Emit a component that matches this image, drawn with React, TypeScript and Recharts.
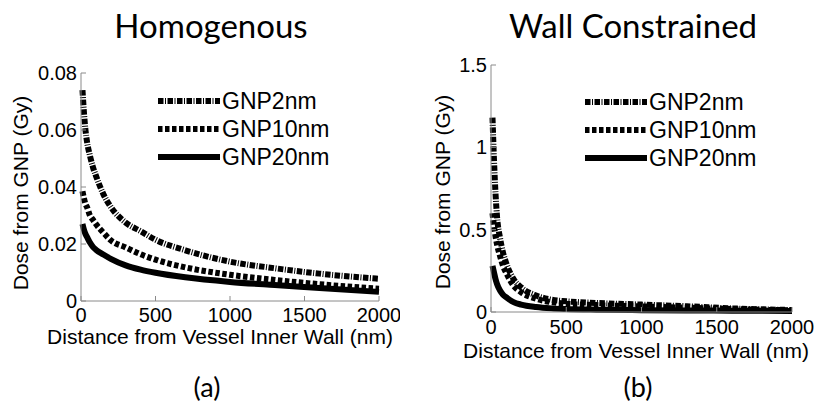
import React from "react";
import { LineChart, Line, XAxis, YAxis, Legend } from "recharts";

// distances (nm) shared by both panels
const distance = [10, 20, 30, 40, 60, 80, 100, 150, 200, 300, 400, 500, 700, 1000, 1300, 1600, 2000];

// (a) Homogenous, dose in Gy
const homGNP2 = [0.074, 0.066, 0.06, 0.056, 0.051, 0.047, 0.044, 0.0375, 0.033, 0.0275, 0.0245, 0.0215, 0.0178, 0.0138, 0.0115, 0.0096, 0.0078];
const homGNP10 = [0.0385, 0.036, 0.034, 0.033, 0.03, 0.0285, 0.027, 0.024, 0.0213, 0.0188, 0.0164, 0.0145, 0.0118, 0.0092, 0.0074, 0.0059, 0.0043];
const homGNP20 = [0.027, 0.025, 0.0235, 0.0225, 0.0205, 0.019, 0.018, 0.0163, 0.0148, 0.0125, 0.011, 0.0099, 0.0083, 0.0067, 0.0056, 0.0046, 0.0032];

// (b) Wall Constrained, dose in Gy
const wallGNP2 = [1.18, 0.92, 0.72, 0.58, 0.45, 0.36, 0.3, 0.2, 0.15, 0.1, 0.075, 0.065, 0.055, 0.045, 0.035, 0.022, 0.012];
const wallGNP10 = [0.6, 0.52, 0.46, 0.41, 0.34, 0.28, 0.24, 0.16, 0.12, 0.08, 0.06, 0.05, 0.042, 0.034, 0.026, 0.018, 0.01];
const wallGNP20 = [0.28, 0.24, 0.2, 0.17, 0.13, 0.105, 0.09, 0.06, 0.045, 0.03, 0.022, 0.018, 0.014, 0.011, 0.009, 0.008, 0.006];

const xTicks = [0, 500, 1000, 1500, 2000];
const homYTicks = [0, 0.02, 0.04, 0.06, 0.08];
const wallYTicks = [0, 0.5, 1, 1.5];

const seriesNames = ["GNP2nm", "GNP10nm", "GNP20nm"];
const dashes: Record<string, string | undefined> = {
  GNP2nm: "5.5 1.5 1 1.5",
  GNP10nm: "4.5 2.5",
  GNP20nm: undefined,
};

const homData = distance.map((d, i) => ({
  d,
  GNP2nm: homGNP2[i],
  GNP10nm: homGNP10[i],
  GNP20nm: homGNP20[i],
}));
const wallData = distance.map((d, i) => ({
  d,
  GNP2nm: wallGNP2[i],
  GNP10nm: wallGNP10[i],
  GNP20nm: wallGNP20[i],
}));

const FONT = "'Liberation Sans', Arial, sans-serif";
const BOX = "#8a8a8a";

function LegendBox() {
  return (
    <div style={{ fontFamily: FONT, fontSize: 23, color: "#000" }}>
      {seriesNames.map((name) => (
        <div key={name} style={{ display: "flex", alignItems: "center", height: 28 }}>
          <svg width={62} height={8} style={{ display: "block" }}>
            <line x1={0} y1={4} x2={62} y2={4} stroke="#000" strokeWidth={6} strokeDasharray={dashes[name]} />
          </svg>
          <span style={{ marginLeft: 2, lineHeight: "28px" }}>{name}</span>
        </div>
      ))}
    </div>
  );
}

type PanelProps = {
  data: any[];
  yTicks: number[];
  yMax: number;
  width: number;
  height: number;
  margin: { top: number; right: number; bottom: number; left: number };
  xTickMargin: number;
  legendPos: { left: number; top: number };
};

function Panel({ data, yTicks, yMax, width, height, margin, xTickMargin, legendPos }: PanelProps) {
  return (
    <LineChart width={width} height={height} data={data} margin={margin}>
      <XAxis
        dataKey="d"
        type="number"
        domain={[0, 2000]}
        ticks={xTicks}
        stroke={BOX}
        tickSize={-5}
        tickMargin={xTickMargin}
        height={30}
        interval={0}
        tick={{ fill: "#000", fontSize: 20, fontFamily: FONT }}
      />
      <XAxis xAxisId="top" orientation="top" dataKey="d" type="number" domain={[0, 2000]} ticks={xTicks} stroke={BOX} tickSize={-5} tick={false} height={0} />
      <YAxis
        type="number"
        domain={[0, yMax]}
        ticks={yTicks}
        stroke={BOX}
        tickSize={-5}
        tickMargin={9}
        width={60}
        interval={0}
        tick={{ fill: "#000", fontSize: 20, fontFamily: FONT }}
      />
      <YAxis yAxisId="right" orientation="right" type="number" domain={[0, yMax]} ticks={yTicks} stroke={BOX} tickSize={-5} tick={false} width={0} />
      <Legend
        layout="vertical"
        align="center"
        verticalAlign="middle"
        content={() => <LegendBox />}
        wrapperStyle={{ left: legendPos.left, top: legendPos.top, width: 200 }}
      />
      {seriesNames.map((name) => (
        <Line
          key={name}
          dataKey={name}
          type="monotone"
          stroke="#000"
          strokeWidth={6}
          strokeDasharray={dashes[name]}
          strokeLinecap="butt"
          dot={false}
          isAnimationActive={false}
        />
      ))}
    </LineChart>
  );
}

export default function App() {
  return (
    <div style={{ position: "absolute", left: 0, top: 0, width: 816, height: 402, background: "#fff", overflow: "hidden" }}>
      <div style={{ position: "absolute", left: 0, top: 0 }}>
        <Panel
          data={homData}
          yTicks={homYTicks}
          yMax={0.08}
          width={400}
          height={402}
          margin={{ top: 73, right: 21, bottom: 71, left: 21 }}
          xTickMargin={12}
          legendPos={{ left: 158, top: 87 }}
        />
      </div>
      <div style={{ position: "absolute", left: 400, top: 0 }}>
        <Panel
          data={wallData}
          yTicks={wallYTicks}
          yMax={1.5}
          width={416}
          height={402}
          margin={{ top: 65, right: 24, bottom: 60, left: 31 }}
          xTickMargin={13}
          legendPos={{ left: 185, top: 88 }}
        />
      </div>
      <svg width={816} height={402} style={{ position: "absolute", left: 0, top: 0, pointerEvents: "none" }}>
        <g fontFamily="Lato, 'Open Sans', sans-serif" fill="#000" textAnchor="middle">
          <text x={211} y={38} fontSize={33}>Homogenous</text>
          <text x={633} y={38} fontSize={33}>Wall Constrained</text>
          <text x={207} y={397} fontSize={27}>(a)</text>
          <text x={638} y={397} fontSize={27}>(b)</text>
        </g>
        <g fontFamily={FONT} fill="#000" textAnchor="middle" fontSize={21}>
          <text x={220} y={344}>Distance from Vessel Inner Wall (nm)</text>
          <text x={636} y={358}>Distance from Vessel Inner Wall (nm)</text>
          <text x={28} y={193} transform="rotate(-90 28 193)">Dose from GNP (Gy)</text>
          <text x={450} y={192} transform="rotate(-90 450 192)">Dose from GNP (Gy)</text>
        </g>
      </svg>
    </div>
  );
}
